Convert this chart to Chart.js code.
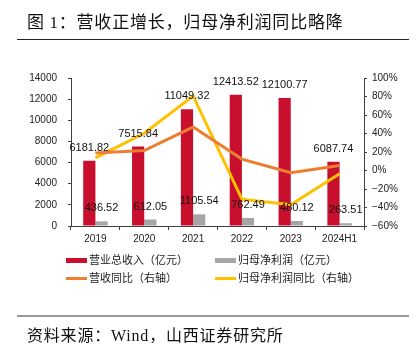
<!DOCTYPE html>
<html>
<head>
<meta charset="utf-8">
<script src="https://cdn.jsdelivr.net/npm/chart.js@4.4.0/dist/chart.umd.min.js"></script>
<style>
  html, body { margin: 0; padding: 0; background: #fff; }
  body { width: 420px; height: 357px; position: relative; overflow: hidden; }
  #c { position: absolute; left: 0; top: 0; }
  .title { position: absolute; left: 27px; top: 12px; font: 17px/17px "Noto Sans CJK SC", "Liberation Serif", serif; letter-spacing: 0.8px; color: #111; white-space: nowrap; }
  .title .n { font-family: "Liberation Serif", serif; }
  .tline { position: absolute; left: 17px; top: 39px; width: 392px; height: 1px; background: #222; }
  .bline { position: absolute; left: 17px; top: 315px; width: 392px; height: 2px; background: #999; }
  .src { position: absolute; left: 27px; top: 326px; font: 16px/16px "Noto Sans CJK SC", sans-serif; letter-spacing: 0.8px; color: #111; white-space: nowrap; }
  .src .w { font-family: "Liberation Serif", serif; }
  .lg { position: absolute; font: 11px/11px "Noto Sans CJK SC", sans-serif; color: #222; white-space: nowrap; }
  .sw { position: absolute; }
</style>
</head>
<body>
<canvas id="c" width="420" height="357"></canvas>
<div class="title">图 <span class="n">1</span>：营收正增长，归母净利润同比略降</div>
<div class="tline"></div>
<div class="bline"></div>
<div class="src">资料来源：<span class="w">Wind</span>，山西证券研究所</div>
<div id="legend"></div>
<script>
// ---- data ----
const categories = ["2019", "2020", "2021", "2022", "2023", "2024H1"];
const revenue = [6181.82, 7515.84, 11049.32, 12413.52, 12100.77, 6087.74];
const netProfit = [436.52, 612.05, 1105.54, 762.49, 480.12, 263.51];
const revenueYoY = [19.0, 21.6, 47.0, 12.3, -2.5, 5.4];
const netProfitYoY = [13.7, 40.2, 80.6, -31.0, -37.0, -3.6];
const seriesNames = ["营业总收入（亿元）", "归母净利润（亿元）", "营收同比（右轴）", "归母净利润同比（右轴）"];
const leftTicks = [0, 2000, 4000, 6000, 8000, 10000, 12000, 14000];
const rightTicks = [-60, -40, -20, 0, 20, 40, 60, 80, 100];

const colors = ["#C8102E", "#A6A6A6", "#ED7D31", "#FFC000"];
const axisColor = "#404040";
const tickFont = { family: "Liberation Sans", size: 10 };

const labelPlugin = {
  id: "barLabels",
  afterDatasetsDraw(chart) {
    const ctx = chart.ctx;
    ctx.save();
    ctx.font = '11px "Liberation Sans"';
    ctx.fillStyle = "#111";
    ctx.textAlign = "center";
    ctx.textBaseline = "middle";
    [0, 1].forEach(di => {
      const meta = chart.getDatasetMeta(di);
      meta.data.forEach((el, i) => {
        const v = chart.data.datasets[di].data[i];
        ctx.fillText(v.toFixed(2), el.x, el.y - 13);
      });
    });
    ctx.restore();
  }
};

const chart = new Chart(document.getElementById("c"), {
  data: {
    labels: categories,
    datasets: [
      { type: "bar", label: seriesNames[0], data: revenue, backgroundColor: colors[0], yAxisID: "y", order: 1,
        categoryPercentage: 0.5, barPercentage: 1.0 },
      { type: "bar", label: seriesNames[1], data: netProfit, backgroundColor: colors[1], yAxisID: "y", order: 1,
        categoryPercentage: 0.5, barPercentage: 1.0 },
      { type: "line", label: seriesNames[2], data: revenueYoY, borderColor: colors[2], backgroundColor: colors[2],
        borderWidth: 3, pointRadius: 0, tension: 0, yAxisID: "y1", order: 0 },
      { type: "line", label: seriesNames[3], data: netProfitYoY, borderColor: colors[3], backgroundColor: colors[3],
        borderWidth: 3, pointRadius: 0, tension: 0, yAxisID: "y1", order: 0 }
    ]
  },
  options: {
    responsive: false,
    animation: false,
    devicePixelRatio: 1,
    layout: { padding: { top: 78, bottom: 111, left: 0, right: 0 } },
    plugins: { legend: { display: false }, tooltip: { enabled: false } },
    scales: {
      x: {
        type: "category",
        offset: true,
        grid: { display: true, drawOnChartArea: false, drawTicks: true, tickLength: 4, offset: true, color: axisColor },
        border: { display: true, color: axisColor, width: 1 },
        ticks: { color: "#222", font: tickFont, padding: 3, maxRotation: 0, autoSkip: false },
        afterFit(s) { s.height = 20; }
      },
      y: {
        position: "left",
        min: leftTicks[0], max: leftTicks[leftTicks.length - 1],
        afterBuildTicks(s) { s.ticks = leftTicks.map(v => ({ value: v })); },
        grid: { display: true, drawOnChartArea: false, drawTicks: true, tickLength: 3, color: axisColor },
        border: { display: true, color: axisColor, width: 1 },
        ticks: { color: "#222", font: tickFont, padding: 11, callback: v => String(v) },
        afterFit(s) { s.width = 71; }
      },
      y1: {
        position: "right",
        min: rightTicks[0], max: rightTicks[rightTicks.length - 1],
        afterBuildTicks(s) { s.ticks = rightTicks.map(v => ({ value: v })); },
        grid: { display: true, drawOnChartArea: false, drawTicks: true, tickLength: 3, color: axisColor },
        border: { display: true, color: axisColor, width: 1 },
        ticks: { color: "#222", font: tickFont, padding: 5, callback: v => (v < 0 ? "\u2212" + Math.abs(v) : v) + "%" },
        afterFit(s) { s.width = 56; }
      }
    }
  },
  plugins: [labelPlugin]
});

// ---- HTML legend built from the datasets ----
(function buildLegend() {
  const host = document.getElementById("legend");
  const cols = [66, 215];
  const rows = [260, 278];
  chart.data.datasets.forEach((ds, i) => {
    const cx = cols[i % 2], cy = rows[Math.floor(i / 2)];
    const sw = document.createElement("div");
    sw.className = "sw";
    const isBar = ds.type === "bar";
    const h = isBar ? 5 : 3;
    sw.style.left = cx + "px";
    sw.style.top = (cy - h / 2) + "px";
    sw.style.width = "21px";
    sw.style.height = h + "px";
    sw.style.background = isBar ? ds.backgroundColor : ds.borderColor;
    host.appendChild(sw);
    const t = document.createElement("div");
    t.className = "lg";
    t.textContent = ds.label;
    t.style.left = (cx + 23) + "px";
    t.style.top = (cy - 6) + "px";
    host.appendChild(t);
  });
})();
</script>
</body>
</html>
